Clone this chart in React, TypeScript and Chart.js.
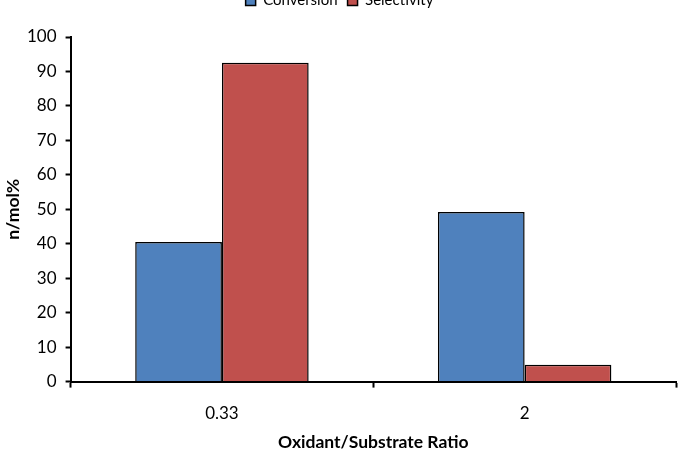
import React, { useEffect, useRef } from "react";
import { Chart, registerables } from "chart.js";

Chart.register(...registerables);

const categories = ["0.33", "2"];
const conversion = [40.5, 49.2];
const selectivity = [92.5, 4.9];
const seriesNames = ["Conversion", "Selectivity"];
const yTitle = "n/mol%";
const xTitle = "Oxidant/Substrate Ratio";

const FONT = "Lato, 'Open Sans', sans-serif";

const legendSpacer = {
  id: "legendSpacer",
  beforeInit(chart: any) {
    const orig = chart.legend.fit;
    chart.legend.fit = function () {
      orig.call(this);
      this.height += 19;
    };
  },
};

export default function App() {
  const ref = useRef<HTMLCanvasElement | null>(null);
  useEffect(() => {
    if (!ref.current) return;
    const chart = new Chart(ref.current, {
      type: "bar",
      data: {
        labels: categories,
        datasets: [
          {
            label: seriesNames[0],
            data: conversion,
            backgroundColor: "#4F81BD",
            borderColor: "#000000",
            borderWidth: 1.5,
          },
          {
            label: seriesNames[1],
            data: selectivity,
            backgroundColor: "#C0504D",
            borderColor: "#000000",
            borderWidth: 1.5,
          },
        ],
      },
      plugins: [legendSpacer],
      options: {
        animation: false,
        responsive: false,
        maintainAspectRatio: false,
        layout: { padding: { left: 3, right: 10, top: 0, bottom: 5 } },
        datasets: { bar: { categoryPercentage: 0.573, barPercentage: 1 } },
        plugins: {
          legend: {
            position: "top",
            labels: {
              boxWidth: 10,
              boxHeight: 10,
              padding: 10,
              color: "#000",
              font: { family: FONT, size: 15 },
            },
          },
          tooltip: { enabled: false },
        },
        scales: {
          x: {
            grid: {
              offset: true,
              drawOnChartArea: false,
              tickLength: 6,
              color: "#000",
              tickWidth: 2,
            },
            border: { color: "#000", width: 2 },
            ticks: { color: "#000", font: { family: FONT, size: 17 }, padding: 16 },
            title: {
              display: true,
              text: xTitle,
              color: "#000",
              font: { family: FONT, size: 17.5, weight: "bold" },
              padding: { top: -8, bottom: 0 },
            },
          },
          y: {
            min: 0,
            max: 100,
            ticks: { stepSize: 10, color: "#000", font: { family: FONT, size: 17 }, padding: 9 },
            grid: {
              drawOnChartArea: false,
              tickLength: 5,
              color: "#000",
              tickWidth: 2,
            },
            border: { color: "#000", width: 2 },
            title: {
              display: true,
              text: yTitle,
              color: "#000",
              font: { family: FONT, size: 17.5, weight: "bold" },
              padding: { top: 0, bottom: -6 },
            },
          },
        },
      },
    });
    return () => chart.destroy();
  }, []);
  return (
    <div style={{ position: "absolute", left: 0, top: -17, width: 686, height: 475 }}>
      <canvas ref={ref} width={686} height={475} style={{ display: "block" }} />
    </div>
  );
}
